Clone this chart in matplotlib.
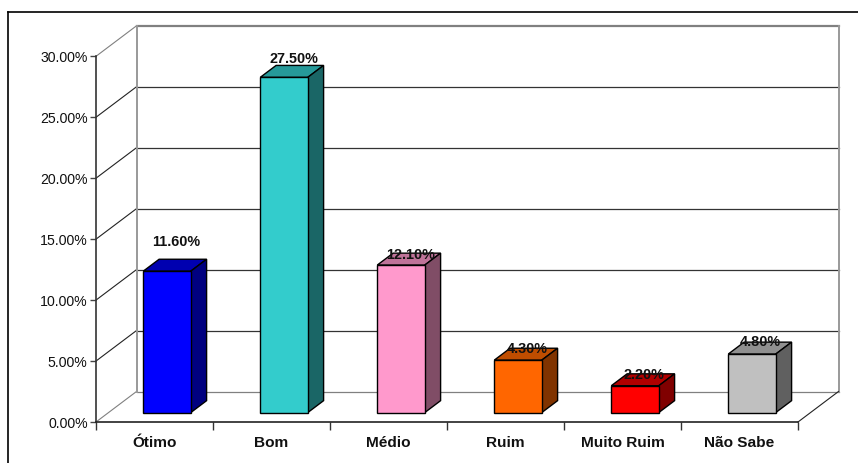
#!/usr/bin/env python3
"""Pseudo-3D column chart: survey ratings, drawn on a plain 2D axes."""

import matplotlib
matplotlib.use("Agg")
import matplotlib.pyplot as plt
import numpy as np
from matplotlib.patches import Polygon

plt.rcParams["font.family"] = ["Liberation Sans", "DejaVu Sans"]

categories = ["Ótimo", "Bom", "Médio", "Ruim", "Muito Ruim", "Não Sabe"]
values = [11.6, 27.5, 12.1, 4.3, 2.2, 4.8]
value_labels = ["11.60%", "27.50%", "12.10%", "4.30%", "2.20%", "4.80%"]
y_ticks = [0, 5, 10, 15, 20, 25, 30]
y_tick_labels = ["0.00%", "5.00%", "10.00%", "15.00%", "20.00%", "25.00%", "30.00%"]

front_colors = ["#0000FF", "#33CCCC", "#FF99CC", "#FF6600", "#FF0000", "#C0C0C0"]
top_colors = ["#0000B0", "#269999", "#BF7399", "#BF4D00", "#B00000", "#909090"]
side_colors = ["#000080", "#1A6666", "#804D66", "#803300", "#800000", "#606060"]
# label offset from the front top centre of each bar, in points
label_offsets = [(6.5, 21), (7, 13), (7, 7.5), (6.5, 8), (6.5, 7.5), (6, 8.5)]

W, H = 858, 463
X0, X1 = 96.0, 798.0      # front plane, pixels
Y0, Y30 = 422.0, 56.3
PX_X = (X1 - X0) / 6      # pixels per category
PX_Y = (Y0 - Y30) / 30    # pixels per percent
DEPTH_X = 40.5 / PX_X     # full depth of the box in data units
DEPTH_Y = 30.5 / PX_Y
BAR_W = 47.5 / PX_X
BAR_START = 0.31          # depth fractions of the bar front and back
BAR_END = 0.70

fig = plt.figure(figsize=(W / 100, H / 100), dpi=100)
ax = fig.add_axes([X0 / W, 1 - Y0 / H, (X1 - X0) / W, (Y0 - Y30) / H])
ax.set_xlim(0, 6)
ax.set_ylim(0, 30)
ax.patch.set_visible(False)


def back(x, y, frac=1.0):
    return x + DEPTH_X * frac, y + DEPTH_Y * frac


# walls and floor
for t in y_ticks:
    xb, yb = back(0, t)
    xe, _ = back(6, t)
    color = "#808080" if t in (0, 30) else "#333333"
    ax.plot([xb, xe], [yb, yb], color=color, lw=1.6 if t == 30 else 0.9, zorder=1, clip_on=False)
    ax.plot([0, xb], [t, yb], color="#808080" if t in (0, 30) else "#222222", lw=0.8, zorder=1, clip_on=False)
xb, yb0 = back(0, 0)
_, yb1 = back(0, 30)
ax.plot([xb, xb], [yb0, yb1], color="#999999", lw=1.4, zorder=1, clip_on=False)
xe, _ = back(6, 0)
ax.plot([xe, xe], [yb0, yb1], color="#999999", lw=1.4, zorder=1, clip_on=False)
ax.plot([6, xe], [0, yb0], color="#222222", lw=0.8, zorder=1, clip_on=False)

# bars
centers = np.arange(6) + 0.5 + DEPTH_X * BAR_START
floor = DEPTH_Y * BAR_START
ax.bar(centers, values, BAR_W, bottom=floor, color=front_colors, edgecolor="black",
       linewidth=1.0, zorder=4, clip_on=False)
dx = DEPTH_X * (BAR_END - BAR_START)
dy = DEPTH_Y * (BAR_END - BAR_START)
for c, v, top_c, side_c in zip(centers, values, top_colors, side_colors):
    left, right = c - BAR_W / 2, c + BAR_W / 2
    ceil = floor + v
    ax.add_patch(Polygon([(left, ceil), (right, ceil), (right + dx, ceil + dy), (left + dx, ceil + dy)],
                         facecolor=top_c, edgecolor="black", lw=1.0, zorder=3, clip_on=False))
    ax.add_patch(Polygon([(right, floor), (right + dx, floor + dy), (right + dx, ceil + dy), (right, ceil)],
                         facecolor=side_c, edgecolor="black", lw=1.0, zorder=3, clip_on=False))

for c, v, txt, off in zip(centers, values, value_labels, label_offsets):
    ax.annotate(txt, (c, floor + v), xytext=off, textcoords="offset points", ha="center", va="center",
                fontsize=10.4, fontweight="bold", color="#111111", zorder=6, annotation_clip=False)

# axes
for name in ("top", "right"):
    ax.spines[name].set_visible(False)
ax.spines["left"].set_color("#333333")
ax.spines["left"].set_linewidth(1.2)
ax.spines["bottom"].set_color("#222222")
ax.spines["bottom"].set_linewidth(1.2)
ax.set_yticks(y_ticks, y_tick_labels, fontsize=10.2, color="#111111")
ax.tick_params(axis="y", length=4, width=1, color="#444444", pad=2)
ax.set_xticks(np.arange(7), [""] * 7)
ax.tick_params(axis="x", which="major", length=5.5, width=1, color="#333333")
ax.set_xticks(np.arange(6) + 0.5, categories, minor=True, fontsize=11.1, fontweight="bold", color="#111111")
ax.tick_params(axis="x", which="minor", length=0, pad=10)

# frame of the surrounding picture: only its top and left edges are in view
fig.add_artist(plt.Line2D([8 / W, 8 / W], [0, 1 - 11.5 / H], color="black", lw=1.2))
fig.add_artist(plt.Line2D([8 / W, 1], [1 - 11.5 / H, 1 - 11.5 / H], color="black", lw=1.2))

fig.savefig("out.png", dpi=100)
